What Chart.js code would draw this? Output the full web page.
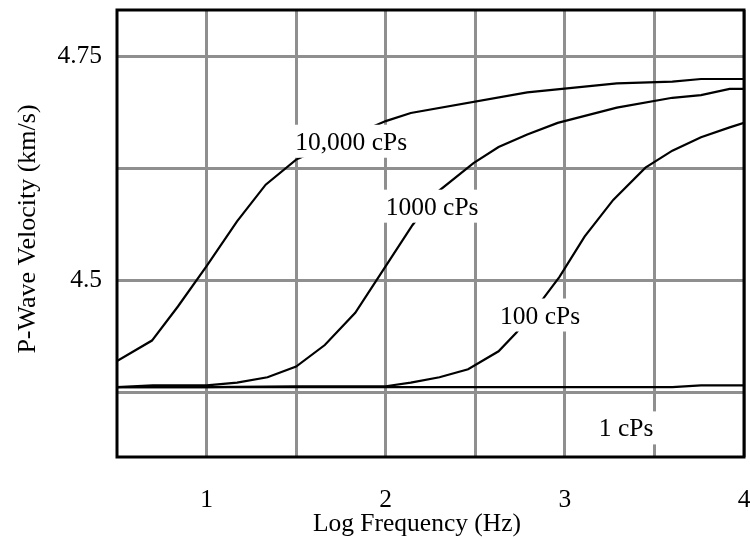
<!DOCTYPE html>
<html>
<head>
<meta charset="utf-8">
<script src="https://cdn.jsdelivr.net/npm/chart.js@4/dist/chart.umd.min.js"></script>
<style>
  html, body { margin: 0; padding: 0; background: #fff; }
  canvas { display: block; }
</style>
</head>
<body>
<canvas id="c" width="750" height="539"></canvas>
<script>
// Log frequency (Hz) sample points and P-wave velocity (km/s) for each viscosity
const x10000 = [0.5, 0.695, 0.84, 1.0, 1.17, 1.33, 1.5, 2.0, 2.14, 2.79, 3.29, 3.6, 3.76, 4.0];
const v10000 = [4.41, 4.433, 4.471, 4.516, 4.566, 4.607, 4.635, 4.678, 4.687, 4.710, 4.720, 4.722, 4.725, 4.725];

const x1000 = [0.5, 0.7, 1.0, 1.17, 1.34, 1.5, 1.66, 1.83, 2.0, 2.15, 2.29, 2.49, 2.63, 2.79, 2.96, 3.29, 3.6, 3.76, 3.92, 4.0];
const v1000 = [4.381, 4.383, 4.383, 4.386, 4.392, 4.404, 4.428, 4.464, 4.516, 4.562, 4.599, 4.631, 4.649, 4.663, 4.676, 4.693, 4.704, 4.707, 4.714, 4.714];

const x100 = [0.5, 1.0, 1.5, 2.0, 2.14, 2.3, 2.46, 2.63, 2.73, 2.88, 2.97, 3.11, 3.27, 3.45, 3.6, 3.76, 3.92, 4.0];
const v100 = [4.381, 4.381, 4.382, 4.382, 4.386, 4.392, 4.401, 4.421, 4.442, 4.480, 4.504, 4.549, 4.590, 4.626, 4.645, 4.660, 4.671, 4.676];

const x1 = [0.5, 1.0, 2.0, 3.0, 3.6, 3.76, 4.0];
const v1 = [4.381, 4.381, 4.381, 4.381, 4.381, 4.383, 4.383];

// Axis ticks (grid every half unit on x, every 0.125 km/s on y)
const xTicks = [1, 1.5, 2, 2.5, 3, 3.5, 4];
const xTickLabels = ['1', '', '2', '', '3', '', '4'];
const yTicks = [4.375, 4.5, 4.625, 4.75];
const yTickLabels = ['', '4.5', '', '4.75'];

// Axis titles
const xTitle = 'Log Frequency (Hz)';
const yTitle = 'P-Wave Velocity (km/s)';

// Curve labels: text, centre x and baseline y in data units
const curveLabels = ['10,000 cPs', '1000 cPs', '100 cPs', '1 cPs'];
const curveLabelX = [1.807, 2.259, 2.862, 3.342];
const curveLabelY = [4.646, 4.5735, 4.452, 4.326];

const FONT = 'Liberation Serif';

function pts(xs, ys) { return xs.map((x, i) => ({ x: x, y: ys[i] })); }

function series(label, xs, ys) {
  return {
    label: label,
    data: pts(xs, ys),
    borderColor: '#000',
    borderWidth: 2.2,
    pointRadius: 0,
    tension: 0,
    fill: false
  };
}

function noPadding(scale) {
  scale.paddingTop = 0;
  scale.paddingBottom = 0;
  scale.paddingLeft = 0;
  scale.paddingRight = 0;
}

// White-boxed curve labels, axis titles and the black plot frame
const overlay = {
  id: 'overlay',
  afterDatasetsDraw(chart) {
    const ctx = chart.ctx;
    const xs = chart.scales.x, ys = chart.scales.y;
    ctx.save();
    ctx.font = '25.5px "' + FONT + '"';
    ctx.textAlign = 'center';
    ctx.textBaseline = 'alphabetic';
    curveLabels.forEach((t, i) => {
      const cx = xs.getPixelForValue(curveLabelX[i]);
      const by = ys.getPixelForValue(curveLabelY[i]);
      const w = ctx.measureText(t).width;
      ctx.fillStyle = '#fff';
      ctx.fillRect(cx - w / 2 - 6, by - 25, w + 12, 33);
      ctx.fillStyle = '#000';
      ctx.fillText(t, cx, by);
    });
    const a = chart.chartArea;
    ctx.strokeStyle = '#000';
    ctx.lineWidth = 3;
    ctx.strokeRect(a.left, a.top, a.right - a.left, a.bottom - a.top);

    // axis titles
    ctx.fillStyle = '#000';
    ctx.textBaseline = 'middle';
    ctx.fillText(xTitle, 417, 524);
    ctx.translate(28, 229);
    ctx.rotate(-Math.PI / 2);
    ctx.font = '26px "' + FONT + '"';
    ctx.fillText(yTitle, 0, 0);
    ctx.restore();
  }
};

new Chart(document.getElementById('c'), {
  type: 'line',
  data: {
    datasets: [
      series('10,000 cPs', x10000, v10000),
      series('1000 cPs', x1000, v1000),
      series('100 cPs', x100, v100),
      series('1 cPs', x1, v1)
    ]
  },
  options: {
    responsive: false,
    devicePixelRatio: 1,
    animation: false,
    layout: { padding: { top: 10, right: 6, left: 0, bottom: 0 } },
    plugins: { legend: { display: false }, tooltip: { enabled: false } },
    scales: {
      x: {
        type: 'linear',
        min: 0.5,
        max: 4,
        afterBuildTicks(scale) { scale.ticks = xTicks.map(v => ({ value: v })); },
        afterFit(scale) { scale.height = 82; noPadding(scale); },
        ticks: {
          autoSkip: false,
          maxRotation: 0,
          padding: 28,
          color: '#000',
          font: { family: FONT, size: 25.5 },
          callback: (v, i) => xTickLabels[i]
        },
        grid: { color: '#8f8f8f', lineWidth: 3, drawTicks: false },
        border: { display: false },
        title: { display: false }
      },
      y: {
        type: 'linear',
        min: 4.303,
        max: 4.802,
        afterBuildTicks(scale) { scale.ticks = yTicks.map(v => ({ value: v })); },
        afterFit(scale) { scale.width = 117; noPadding(scale); },
        ticks: {
          autoSkip: false,
          padding: 15,
          color: '#000',
          font: { family: FONT, size: 25.5 },
          callback: (v, i) => yTickLabels[i]
        },
        grid: { color: '#8f8f8f', lineWidth: 3, drawTicks: false },
        border: { display: false },
        title: { display: false }
      }
    }
  },
  plugins: [overlay]
});
</script>
</body>
</html>
